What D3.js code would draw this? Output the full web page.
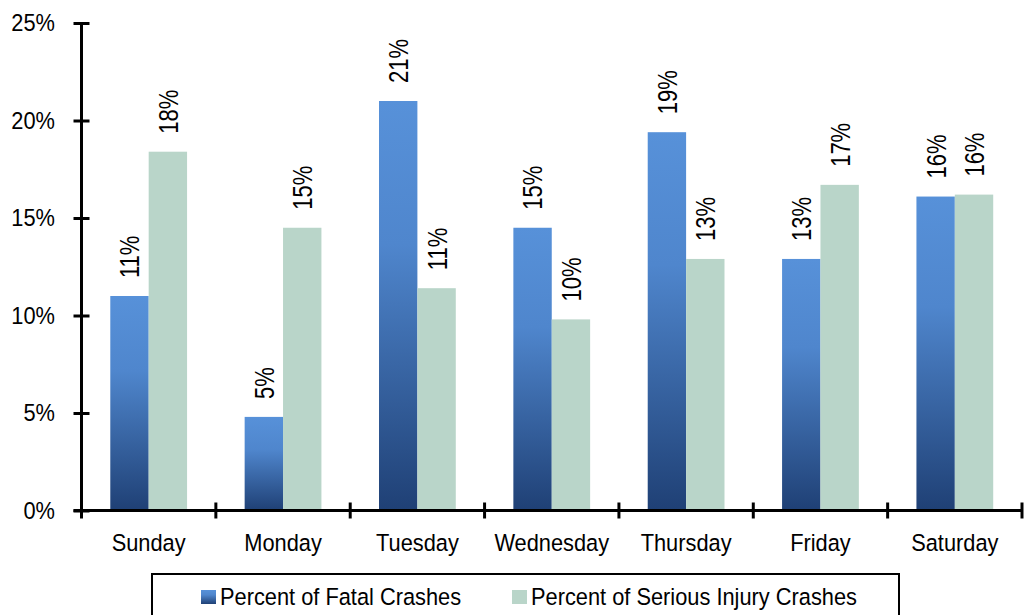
<!DOCTYPE html>
<html>
<head>
<meta charset="utf-8">
<script src="https://cdn.jsdelivr.net/npm/d3@7"></script>
<style>
  body { margin: 0; background: #fff; }
  svg { display: block; font-family: "Liberation Sans", Arial, sans-serif; }
</style>
</head>
<body>
<svg id="chart" width="1024" height="615"></svg>
<script>
// values (percent of crashes by day of week)
const days = ['Sunday', 'Monday', 'Tuesday', 'Wednesday', 'Thursday', 'Friday', 'Saturday'];
const fatal = [11.0, 4.8, 21.0, 14.5, 19.4, 12.9, 16.1];
const serious = [18.4, 14.5, 11.4, 9.8, 12.9, 16.7, 16.2];
const seriesNames = ['Percent of Fatal Crashes', 'Percent of Serious Injury Crashes'];
const yTicks = [0, 5, 10, 15, 20, 25];

const svg = d3.select('#chart');
const plotLeft = 81.5, plotRight = 1022, plotTop = 23, plotBottom = 510.5;
// the text in the original is a bit tall and narrow
const squish = 'scale(0.89,1)';
const fontSize = 24.5;

const x = d3.scaleBand().domain(days).range([plotLeft, plotRight]).padding(0);
const x1 = d3.scaleBand().domain([0, 1]).range([0, x.bandwidth()])
  .paddingInner(0).paddingOuter(0.75);
const y = d3.scaleLinear().domain([0, 25]).range([plotBottom, plotTop]);

const defs = svg.append('defs');
const grad = defs.append('linearGradient')
  .attr('id', 'fatalGrad')
  .attr('x1', 0).attr('y1', 0).attr('x2', 0).attr('y2', 1);
grad.append('stop').attr('offset', '0%').attr('stop-color', '#5791d9');
grad.append('stop').attr('offset', '35%').attr('stop-color', '#4f86cd');
grad.append('stop').attr('offset', '100%').attr('stop-color', '#1f4075');

const fills = ['url(#fatalGrad)', '#b9d5c9'];

const rows = days.map((d, i) => ({ day: d, vals: [fatal[i], serious[i]] }));

// bars
const groups = svg.append('g').selectAll('g')
  .data(rows)
  .join('g')
  .attr('transform', d => `translate(${x(d.day)},0)`);

groups.selectAll('rect')
  .data(d => d.vals.map((v, s) => ({ v, s })))
  .join('rect')
  .attr('x', d => x1(d.s))
  .attr('y', d => y(d.v))
  .attr('width', x1.bandwidth())
  .attr('height', d => y(0) - y(d.v))
  .attr('fill', d => fills[d.s]);

// value labels, rotated (glyphs look taller in the original, so stretch across)
groups.selectAll('text')
  .data(d => d.vals.map((v, s) => ({ v, s })))
  .join('text')
  .attr('transform', d => `translate(${x1(d.s) + x1.bandwidth() / 2},${y(d.v) - 18}) scale(1.25,1) rotate(-90)`)
  .attr('dominant-baseline', 'central')
  .attr('text-anchor', 'start')
  .attr('font-size', 22)
  .attr('fill', '#000')
  .text(d => Math.round(d.v) + '%');

// y axis
const yAxis = svg.append('g')
  .attr('transform', `translate(${plotLeft},0)`)
  .call(d3.axisLeft(y).tickValues(yTicks).tickSize(8).tickPadding(18).tickFormat(d => d + '%'));
yAxis.attr('font-family', null).attr('font-size', null);
yAxis.select('.domain').attr('d', `M0,${plotTop}V${plotBottom + 8}`).attr('stroke', '#000').attr('stroke-width', 3);
yAxis.selectAll('.tick line').attr('x1', 8).attr('stroke', '#000').attr('stroke-width', 3);
yAxis.selectAll('.tick text')
  .attr('x', 0)
  .attr('transform', `translate(-26.5,0) ${squish}`)
  .attr('font-size', fontSize)
  .attr('fill', '#000');

// x axis with cross ticks on category boundaries
const xg = svg.append('g');
xg.append('line')
  .attr('x1', plotLeft - 8).attr('x2', plotRight)
  .attr('y1', plotBottom).attr('y2', plotBottom)
  .attr('stroke', '#000').attr('stroke-width', 3);
const bounds = days.map(d => x(d)).slice(1).concat([plotRight]);
xg.selectAll('.xtick')
  .data(bounds)
  .join('line')
  .attr('class', 'xtick')
  .attr('x1', d => d).attr('x2', d => d)
  .attr('y1', plotBottom - 8).attr('y2', plotBottom + 8)
  .attr('stroke', '#000').attr('stroke-width', 3);
xg.selectAll('.xlabel')
  .data(days)
  .join('text')
  .attr('class', 'xlabel')
  .attr('transform', d => `translate(${x(d) + x.bandwidth() / 2},551) ${squish}`)
  .attr('text-anchor', 'middle')
  .attr('font-size', fontSize)
  .text(d => d);

// legend
const legend = svg.append('g');
legend.append('rect')
  .attr('x', 152).attr('y', 574)
  .attr('width', 747).attr('height', 60)
  .attr('fill', '#fff').attr('stroke', '#000').attr('stroke-width', 2);
const legendX = [201, 512];
seriesNames.forEach((name, i) => {
  legend.append('rect')
    .attr('x', legendX[i]).attr('y', 590)
    .attr('width', 15).attr('height', 14)
    .attr('fill', fills[i]);
  legend.append('text')
    .attr('transform', `translate(${legendX[i] + 19},605) ${squish}`)
    .attr('font-size', fontSize)
    .text(name);
});
</script>
</body>
</html>
